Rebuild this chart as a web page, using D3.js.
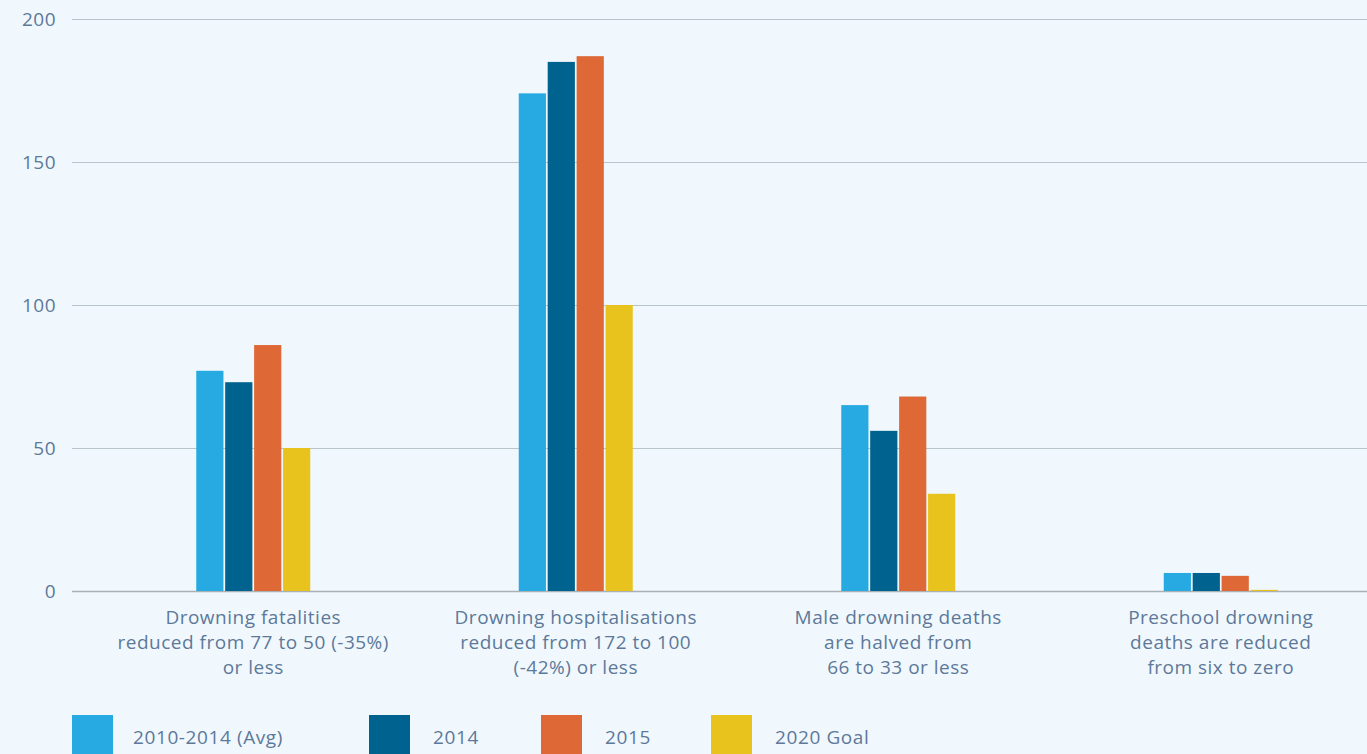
<!DOCTYPE html>
<html>
<head>
<meta charset="utf-8">
<script src="https://cdn.jsdelivr.net/npm/d3@7"></script>
<style>
  html, body { margin: 0; padding: 0; background: #f0f8fe; overflow: hidden; }
  text { font-family: "Open Sans", sans-serif; fill: #5d7899; }
</style>
</head>
<body>
<script>
// chart data
var categories = [
  ["Drowning fatalities", "reduced from 77 to 50 (-35%)", "or less"],
  ["Drowning hospitalisations", "reduced from 172 to 100", "(-42%) or less"],
  ["Male drowning deaths", "are halved from", "66 to 33 or less"],
  ["Preschool drowning", "deaths are reduced", "from six to zero"]
];
var seriesNames = ["2010-2014 (Avg)", "2014", "2015", "2020 Goal"];
var avg2010_2014 = [77, 174, 65, 6.3];
var y2014 = [73, 185, 56, 6.3];
var y2015 = [86, 187, 68, 5.3];
var goal2020 = [50, 100, 34, 0.4];
var colors = ["#27aae1", "#00628e", "#de6836", "#e8c31e"];
var yTicks = [0, 50, 100, 150, 200];

var series = [avg2010_2014, y2014, y2015, goal2020];
var w = 1367, h = 754;

var svg = d3.select('body').append('svg').attr('width', w).attr('height', h);

var y = d3.scaleLinear().domain([0, 200]).range([591, 19]);
var x0 = d3.scaleBand().domain(d3.range(categories.length)).range([92, 1382]);
var x1 = d3.scaleBand().domain(d3.range(series.length)).range([0, 114]).paddingInner(0.06);

// gridlines + tick labels
var yAxis = d3.axisLeft(y).tickValues(yTicks).tickSize(-(1367 - 72)).tickPadding(16);
var ga = svg.append('g').attr('transform', 'translate(72,0)').call(yAxis);
ga.select('.domain').remove();
ga.selectAll('.tick line').attr('stroke', function(d){ return d === 0 ? '#a9b1b4' : '#b9c5cc'; })
  .attr('stroke-width', function(d){ return d === 0 ? 1.5 : 1; });
ga.selectAll('.tick text').attr('x', -16).style('font-size', '19px').style('letter-spacing', '0.5px')
  .attr('fill', '#5d7899').style('font-family', '"Open Sans", sans-serif');

// bars
var groups = svg.selectAll('g.grp')
  .data(categories)
  .enter()
  .append('g')
  .attr('class', 'grp')
  .attr('transform', function(d, i){ return 'translate(' + (x0(i) + x0.bandwidth() / 2 - 57) + ',0)'; });

groups.selectAll('rect')
  .data(function(d, i){ return series.map(function(s, k){ return {k: k, v: s[i]}; }); })
  .enter()
  .append('rect')
  .attr('x', function(d){ return x1(d.k); })
  .attr('width', x1.bandwidth())
  .attr('y', function(d){ return y(d.v); })
  .attr('height', function(d){ return y(0) - y(d.v); })
  .attr('fill', function(d){ return colors[d.k]; });

// category labels
groups.each(function(d){
  var t = d3.select(this).append('text')
    .attr('x', 57)
    .attr('y', 624)
    .attr('text-anchor', 'middle')
    .style('font-size', '19px')
    .style('letter-spacing', '0.5px');
  d.forEach(function(line, j){
    t.append('tspan').attr('x', 57).attr('dy', j === 0 ? 0 : 25).text(line);
  });
});

// legend
var legendX = [72, 369, 541, 711];
var lg = svg.selectAll('g.legend')
  .data(seriesNames)
  .enter()
  .append('g')
  .attr('class', 'legend')
  .attr('transform', function(d, i){ return 'translate(' + legendX[i] + ',715)'; });
lg.append('rect').attr('width', 41).attr('height', 45).attr('fill', function(d, i){ return colors[i]; });
lg.append('text').attr('x', function(d, i){ return i === 0 ? 61 : 64; }).attr('y', 29)
  .style('font-size', '19px').style('letter-spacing', '0.6px').text(function(d){ return d; });
</script>
</body>
</html>
